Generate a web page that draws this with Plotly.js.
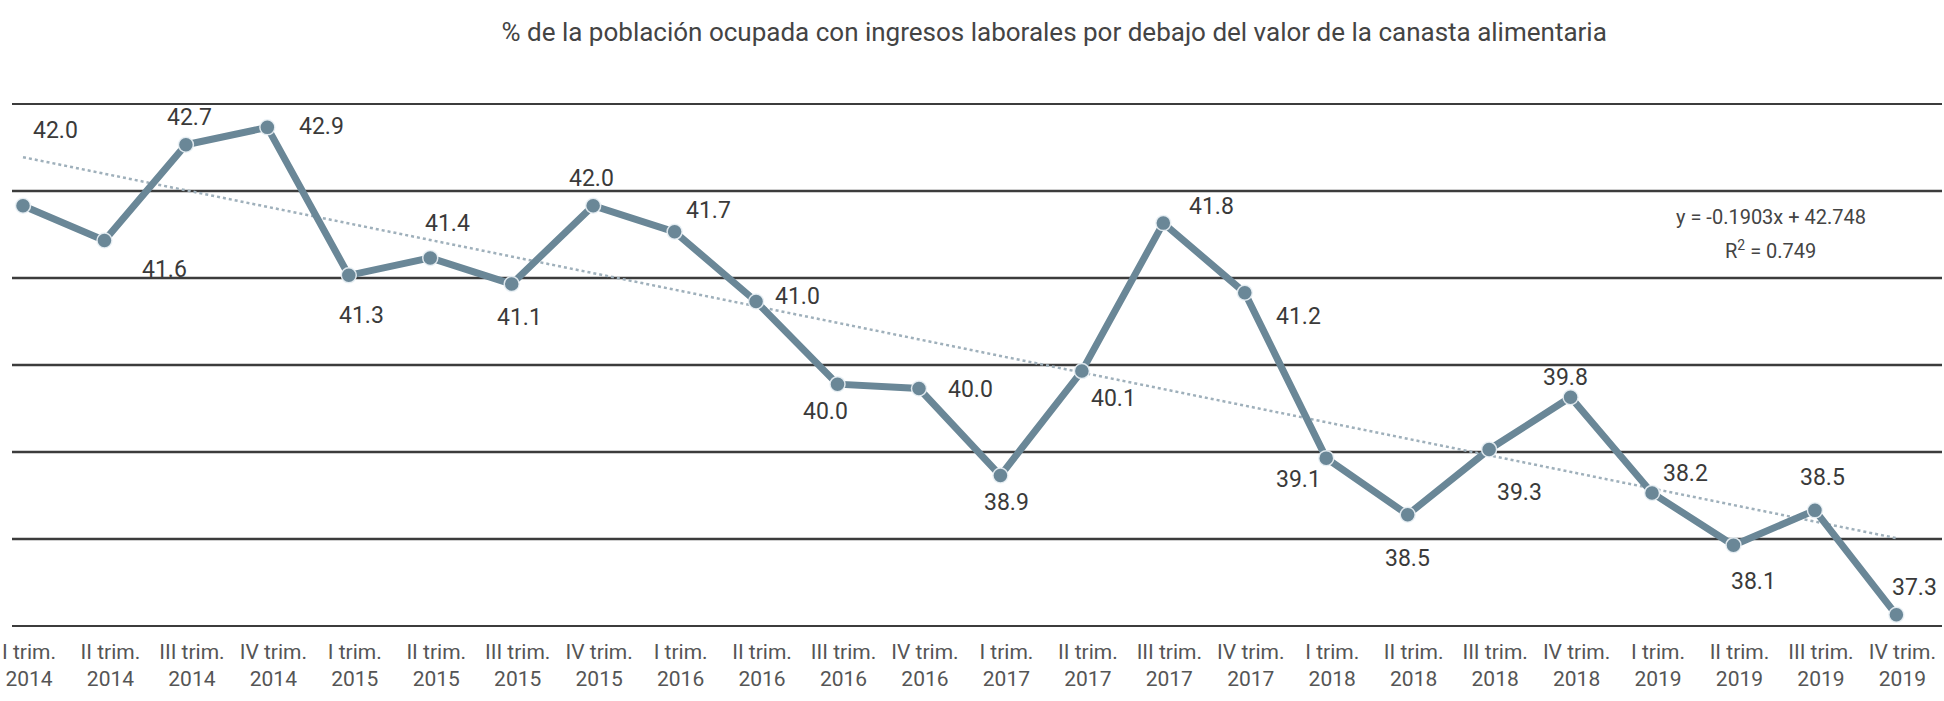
<!DOCTYPE html>
<html>
<head>
<meta charset="utf-8">
<script src="https://cdn.plot.ly/plotly-3.0.1.min.js"></script>
<style>
  html, body { margin: 0; padding: 0; background: #ffffff; }
  #chart { width: 1944px; height: 701px; }
</style>
</head>
<body>
<div id="chart"></div>
<script>
// ---- Data ----
const quarters = ['I trim.', 'II trim.', 'III trim.', 'IV trim.',
                  'I trim.', 'II trim.', 'III trim.', 'IV trim.',
                  'I trim.', 'II trim.', 'III trim.', 'IV trim.',
                  'I trim.', 'II trim.', 'III trim.', 'IV trim.',
                  'I trim.', 'II trim.', 'III trim.', 'IV trim.',
                  'I trim.', 'II trim.', 'III trim.', 'IV trim.'];
const years = ['2014', '2014', '2014', '2014',
               '2015', '2015', '2015', '2015',
               '2016', '2016', '2016', '2016',
               '2017', '2017', '2017', '2017',
               '2018', '2018', '2018', '2018',
               '2019', '2019', '2019', '2019'];
// plotted positions of the markers, as drawn
const values = [42.0, 41.6, 42.7, 42.9,
                41.2, 41.4, 41.1, 42.0,
                41.7, 40.9, 39.95, 39.9,
                38.9, 40.1, 41.8, 41.0,
                39.1, 38.45, 39.2, 39.8,
                38.7, 38.1, 38.5, 37.3];
// data labels printed on the chart
const valueLabels = ['42.0', '41.6', '42.7', '42.9',
                     '41.3', '41.4', '41.1', '42.0',
                     '41.7', '41.0', '40.0', '40.0',
                     '38.9', '40.1', '41.8', '41.2',
                     '39.1', '38.5', '39.3', '39.8',
                     '38.2', '38.1', '38.5', '37.3'];
// horizontal rules of the chart (value levels)
const gridLevels = [37.17, 38.17, 39.17, 40.17, 41.17, 42.17, 43.17];
// linear trend printed on the chart
const trendSlope = -0.1903;
const trendIntercept = 42.748;
const rSquared = '0.749';
const chartTitle = '% de la población ocupada con ingresos laborales por debajo del valor de la canasta alimentaria';

// ---- Styling / label placement (pixel offsets from each marker) ----
const labelOffsets = [[32, -75], [60, 29], [4, -27], [54, -1],
                      [13, 40], [17, -34], [8, 33], [-2, -27],
                      [34, -21], [41, -5], [-12, 27], [52, 1],
                      [6, 27], [32, 27], [48, -17], [54, 24],
                      [-28, 21], [0, 44], [30, 43], [-5, -20],
                      [33, -19], [20, 36], [8, -33], [18, -27]];

const FONT = 'Roboto, "Noto Sans", sans-serif';
const LINE_COLOR = '#6a8797';

const xs = values.map((v, i) => i + 1);
const tickText = quarters.map((q, i) => q + '<br>' + years[i]);
const trendX = [xs[0], xs[xs.length - 1]];
const trendY = trendX.map(x => trendSlope * x + trendIntercept);

const traces = [
  {
    x: trendX, y: trendY, type: 'scatter', mode: 'lines',
    line: { color: '#9fb0bb', width: 2.5, dash: 'dot' },
    hoverinfo: 'skip', showlegend: false
  },
  {
    x: xs, y: values, type: 'scatter', mode: 'lines+markers',
    line: { color: LINE_COLOR, width: 7 },
    marker: { color: LINE_COLOR, size: 15, line: { color: 'rgba(235,242,246,0.9)', width: 1.5 } },
    showlegend: false
  }
];

const annotations = values.map((v, i) => ({
  x: xs[i], y: v, xref: 'x', yref: 'y',
  text: valueLabels[i], showarrow: false,
  xshift: labelOffsets[i][0], yshift: -labelOffsets[i][1],
  xanchor: 'center', yanchor: 'middle',
  font: { family: FONT, size: 23, color: '#3a3a3a' }
}));

const slopeText = 'y = ' + trendSlope.toFixed(4) + 'x + ' + trendIntercept.toFixed(3);
annotations.push({
  x: 22.46, y: 41.87, xref: 'x', yref: 'y', text: slopeText, showarrow: false,
  xanchor: 'center', yanchor: 'middle',
  font: { family: FONT, size: 20, color: '#444444' }
});
annotations.push({
  x: 22.46, y: 41.49, xref: 'x', yref: 'y', text: 'R<sup>2</sup> = ' + rSquared, showarrow: false,
  xanchor: 'center', yanchor: 'middle',
  font: { family: FONT, size: 20, color: '#444444' }
});

const shapes = gridLevels.map(g => ({
  type: 'line', xref: 'paper', yref: 'y', x0: 0, x1: 1, y0: g, y1: g,
  line: { color: '#3c3c3c', width: 2.5 }, layer: 'below'
}));

const layout = {
  width: 1944, height: 701,
  margin: { l: 12, r: 2, t: 103, b: 74 },
  paper_bgcolor: '#ffffff', plot_bgcolor: '#ffffff',
  title: {
    text: chartTitle, x: 0.540, xanchor: 'center', xref: 'paper',
    y: 0.954, yanchor: 'middle', yref: 'container',
    font: { family: FONT, size: 26, color: '#444444' }
  },
  xaxis: {
    range: [0.865, 24.56], tickvals: xs, ticktext: tickText,
    showgrid: false, zeroline: false, showline: false, ticks: '',
    ticklabeloverflow: 'allow', ticklabelstandoff: 10, ticklabelshift: 6,
    tickfont: { family: FONT, size: 21, color: '#555555' }
  },
  yaxis: {
    range: [37.16, 43.18],
    showgrid: false, zeroline: false, showline: false, showticklabels: false, ticks: ''
  },
  shapes: shapes,
  annotations: annotations,
  hovermode: false
};

Plotly.newPlot('chart', traces, layout, { staticPlot: true, displayModeBar: false });
</script>
</body>
</html>
